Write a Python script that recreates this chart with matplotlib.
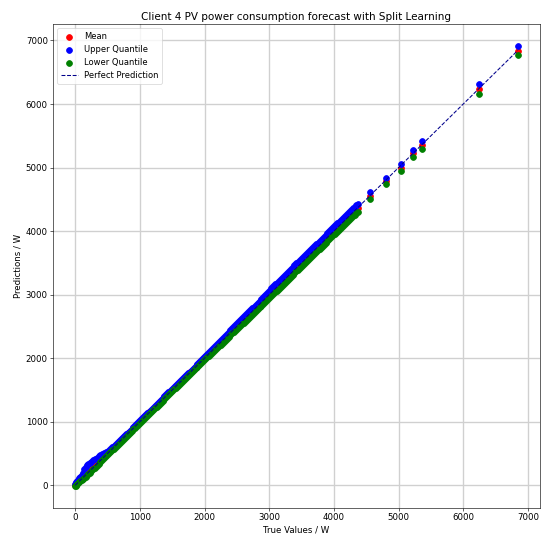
import numpy as np
import matplotlib
matplotlib.use("Agg")
import matplotlib.pyplot as plt

# valores (W)
true_vals = [0, 5, 15, 30, 45, 60, 80, 100, 120, 140,
             160, 180, 200, 225, 250, 275, 300, 330, 360, 390,
             420, 450, 480, 510, 540, 570, 600, 630, 660, 690,
             720, 750, 780, 810, 840, 870, 900, 930, 960, 990,
             1020, 1050, 1080, 1110, 1140, 1170, 1200, 1230, 1260, 1290,
             1320, 1350, 1380, 1410, 1440, 1470, 1500, 1530, 1560, 1590,
             1620, 1650, 1680, 1710, 1740, 1770, 1800, 1830, 1860, 1890,
             1920, 1950, 1980, 2010, 2040, 2070, 2100, 2130, 2160, 2190,
             2220, 2250, 2280, 2310, 2340, 2370, 2400, 2430, 2460, 2490,
             2520, 2550, 2580, 2610, 2640, 2670, 2700, 2730, 2760, 2790,
             2820, 2850, 2880, 2910, 2940, 2970, 3000, 3030, 3060, 3090,
             3120, 3150, 3180, 3210, 3240, 3270, 3300, 3330, 3360, 3390,
             3420, 3450, 3480, 3510, 3540, 3570, 3600, 3630, 3660, 3690,
             3720, 3750, 3780, 3810, 3840, 3870, 3900, 3930, 3960, 3990,
             4020, 4050, 4080, 4110, 4140, 4170, 4200, 4230, 4260, 4290,
             4320, 4345, 4365, 4551, 4799, 5031, 5217, 5356, 6238, 6842]

mean_pred = [0, 6, 17, 32, 48, 63, 84, 104, 124, 145,
             165, 185, 205, 230, 255, 280, 305, 335, 365, 395,
             425, 455, 485, 515, 545, 575, 605, 635, 665, 695,
             727, 756, 786, 815, 845, 875, 905, 935, 965, 995,
             1025, 1055, 1085, 1115, 1145, 1175, 1205, 1235, 1265, 1295,
             1325, 1355, 1385, 1415, 1445, 1475, 1505, 1535, 1565, 1595,
             1625, 1655, 1685, 1715, 1745, 1775, 1805, 1835, 1865, 1895,
             1925, 1955, 1985, 2015, 2045, 2075, 2105, 2135, 2165, 2195,
             2225, 2255, 2285, 2315, 2345, 2375, 2405, 2435, 2465, 2495,
             2525, 2555, 2585, 2615, 2645, 2675, 2705, 2735, 2765, 2795,
             2825, 2855, 2885, 2915, 2945, 2975, 3008, 3040, 3070, 3100,
             3128, 3157, 3186, 3215, 3245, 3275, 3305, 3335, 3365, 3395,
             3425, 3455, 3485, 3515, 3545, 3575, 3605, 3635, 3665, 3695,
             3725, 3755, 3785, 3815, 3845, 3875, 3905, 3935, 3965, 3995,
             4025, 4055, 4085, 4115, 4145, 4175, 4205, 4235, 4265, 4295,
             4325, 4350, 4370, 4560, 4795, 5000, 5225, 5360, 6229, 6832]

upper_pred = [20, 35, 50, 70, 90, 110, 135, 165, 200, 250,
              290, 320, 330, 345, 370, 390, 410, 435, 460, 480,
              490, 505, 520, 545, 570, 595, 620, 650, 680, 710,
              740, 770, 800, 830, 860, 890, 920, 950, 980, 1010,
              1040, 1070, 1100, 1130, 1160, 1190, 1220, 1250, 1280, 1310,
              1340, 1370, 1400, 1430, 1460, 1490, 1520, 1550, 1580, 1610,
              1640, 1670, 1700, 1730, 1760, 1790, 1820, 1850, 1880, 1910,
              1942, 1973, 2004, 2035, 2066, 2097, 2128, 2159, 2190, 2221,
              2253, 2285, 2317, 2349, 2381, 2413, 2445, 2477, 2509, 2541,
              2572, 2602, 2632, 2662, 2692, 2722, 2752, 2782, 2812, 2842,
              2872, 2902, 2932, 2962, 2995, 3030, 3065, 3100, 3132, 3162,
              3190, 3220, 3250, 3280, 3310, 3340, 3370, 3400, 3430, 3460,
              3490, 3520, 3550, 3580, 3610, 3640, 3670, 3700, 3730, 3760,
              3790, 3820, 3850, 3880, 3910, 3940, 3970, 4000, 4030, 4060,
              4090, 4120, 4150, 4180, 4210, 4240, 4270, 4300, 4330, 4360,
              4385, 4410, 4430, 4614, 4840, 5061, 5274, 5416, 6308, 6910]

lower_pred = [-10, -5, 5, 20, 35, 48, 65, 82, 100, 118,
              135, 155, 175, 200, 225, 250, 275, 305, 335, 365,
              398, 428, 458, 488, 518, 548, 578, 608, 638, 668,
              698, 728, 758, 788, 818, 848, 878, 908, 938, 968,
              998, 1028, 1058, 1088, 1118, 1148, 1178, 1208, 1238, 1268,
              1298, 1328, 1358, 1388, 1418, 1448, 1478, 1508, 1538, 1568,
              1598, 1628, 1658, 1688, 1718, 1748, 1778, 1808, 1838, 1868,
              1897, 1926, 1955, 1984, 2013, 2042, 2071, 2100, 2129, 2158,
              2186, 2215, 2244, 2273, 2302, 2331, 2360, 2389, 2418, 2447,
              2470, 2500, 2530, 2560, 2590, 2620, 2650, 2680, 2710, 2740,
              2768, 2798, 2828, 2858, 2888, 2918, 2948, 2978, 3008, 3038,
              3065, 3095, 3125, 3155, 3185, 3215, 3245, 3275, 3305, 3335,
              3365, 3395, 3425, 3455, 3485, 3515, 3545, 3575, 3605, 3635,
              3665, 3695, 3725, 3755, 3785, 3815, 3845, 3875, 3905, 3935,
              3962, 3992, 4022, 4052, 4082, 4112, 4142, 4172, 4202, 4232,
              4260, 4285, 4300, 4507, 4746, 4945, 5164, 5297, 6162, 6764]

plt.rcParams['font.size'] = 11.5

fig = plt.figure(figsize=(10, 538 / 54.2), dpi=54.2)
plt.subplots_adjust(left=0.098, right=0.996, bottom=0.056, top=0.955)

plt.scatter(true_vals, mean_pred, color='red', s=60, label='Mean')
plt.scatter(true_vals, upper_pred, color='blue', s=60, label='Upper Quantile')
plt.scatter(true_vals, lower_pred, color='green', s=60, label='Lower Quantile')
lims = [min(true_vals), max(true_vals)]
plt.plot(lims, lims, '--', color='darkblue', linewidth=1.4, zorder=3, label='Perfect Prediction')

plt.title('Client 4 PV power consumption forecast with Split Learning', fontsize=13.8)
plt.xlabel('True Values / W')
plt.ylabel('Predictions / W')
plt.grid(True, color='#d0d0d0', linewidth=1.8)
plt.gca().set_axisbelow(True)
plt.legend(loc='upper left', fontsize=11.2)

plt.savefig('out.png', dpi=54.2)
